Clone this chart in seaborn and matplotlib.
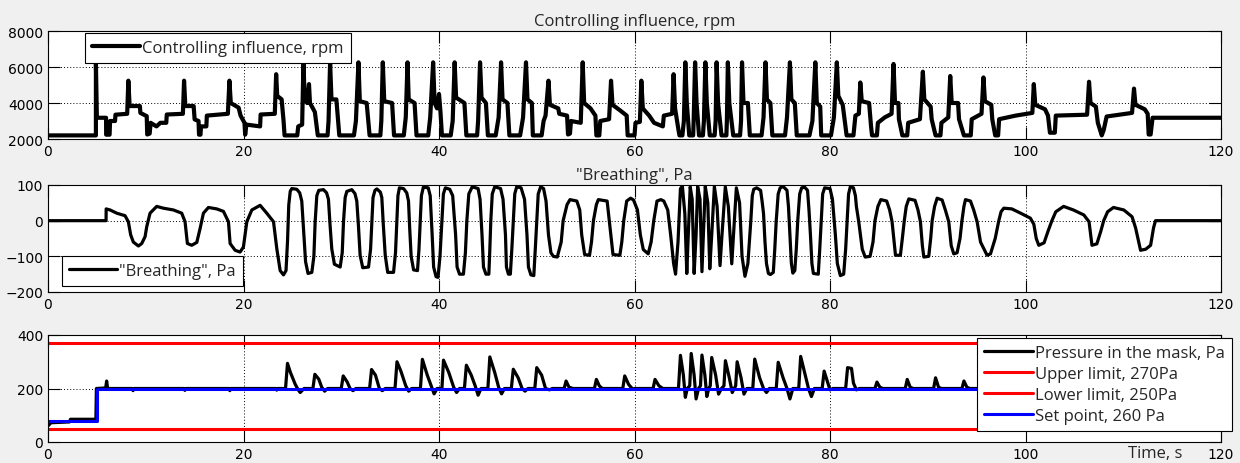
import matplotlib
matplotlib.use("Agg")
import matplotlib.pyplot as plt
import seaborn as sns

# ---------------- data (time in s) ----------------
x_ticks = [0, 20, 40, 60, 80, 100, 120]
ctrl_yticks = [2000, 4000, 6000, 8000]
breath_yticks = [-200, -100, 0, 100]
press_yticks = [0, 200, 400]

# Controlling influence, rpm  (time, rpm)
ctrl_points = [
    (0, 2200), (4.9, 2200), (4.9, 6260), (5.0, 3180), (5.94, 3180), (5.95, 2240), (6.3, 2240),
    (6.35, 3000), (6.86, 3000), (6.9, 3350), (8.1, 3400),
    (8.22, 5240), (8.35, 3830), (9.4, 3830), (9.45, 3450), (10.1, 3270), (10.15, 2250), (10.4, 2300),
    (10.5, 2900), (11.1, 2700), (11.5, 2900), (12.1, 2900), (12.15, 3360), (13.8, 3400),
    (13.92, 5240), (14.05, 3830), (14.9, 3830), (15.0, 3090), (15.4, 3000), (15.45, 2240), (15.6, 2240),
    (15.65, 2700), (16.2, 2700), (16.25, 3300), (18.4, 3400),
    (18.56, 5240), (18.7, 4000), (19.5, 3740), (19.7, 3300), (20.1, 2900), (20.17, 2240), (20.3, 2800),
    (21.7, 2700), (21.75, 3360), (23.2, 3400),
    (23.34, 5600), (23.45, 4400), (23.9, 4200), (24.1, 3000), (24.2, 2200), (25.5, 2200), (25.6, 2700), (26.0, 2800),
    (26.13, 6260), (26.25, 4400), (26.5, 4000), (26.7, 5050), (26.8, 4000), (27.3, 3500), (27.6, 2200), (28.6, 2200), (28.7, 3000),
    (28.86, 6260), (29.0, 4200), (29.5, 4200), (29.8, 2200), (31.3, 2200), (31.5, 3000),
    (31.76, 6260), (31.9, 4100), (32.6, 4000), (32.9, 2200), (34.0, 2200), (34.1, 3000),
    (34.25, 6260), (34.4, 4100), (35.2, 4000), (35.4, 2200), (36.4, 2200), (36.6, 3200),
    (36.78, 6260), (36.9, 4200), (37.5, 4000), (37.7, 2200), (38.9, 2200), (39.1, 3200),
    (39.4, 6260), (39.55, 4000), (39.8, 3700), (40.0, 4500), (40.15, 3500), (40.3, 2200), (41.2, 2200), (41.4, 3000),
    (41.6, 6260), (41.75, 4300), (42.6, 4000), (42.8, 2200), (43.9, 2200), (44.0, 3000),
    (44.2, 6260), (44.35, 4300), (44.8, 4000), (45.0, 2200), (45.8, 2200), (46.1, 3200),
    (46.35, 6260), (46.5, 4200), (47.0, 4000), (47.2, 2200), (48.3, 2200), (48.6, 3200),
    (48.9, 6260), (49.05, 4200), (49.5, 4000), (49.6, 2200), (50.5, 2200), (50.7, 3000), (50.9, 3300),
    (51.2, 5240), (51.35, 3900), (52.2, 3700), (52.3, 3400), (53.1, 3300), (53.2, 2250), (53.4, 2300), (53.5, 3000), (54.5, 2900),
    (54.7, 6260), (54.85, 4000), (55.5, 3700), (56.0, 3300), (56.1, 2200), (56.4, 2200), (56.5, 3000), (57.4, 3100),
    (57.6, 5240), (57.75, 3900), (58.5, 3600), (59.2, 3300), (59.3, 2200), (60.0, 2200), (60.1, 2900), (60.55, 2950),
    (60.7, 5240), (60.85, 3700), (61.5, 3300), (62.0, 2900), (62.9, 2700), (63.0, 3300), (63.85, 3400),
    (64.0, 5600), (64.15, 3700), (64.5, 2500), (64.6, 2200), (64.9, 2200), (65.05, 3000),
    (65.2, 6260), (65.35, 4000), (65.6, 2200), (66.0, 2200), (66.05, 3000),
    (66.2, 6260), (66.35, 4000), (66.6, 2200), (67.0, 2200), (67.1, 3000),
    (67.25, 6260), (67.4, 4000), (67.7, 2200), (68.2, 2200), (68.3, 3000),
    (68.4, 6260), (68.55, 4000), (68.9, 2200), (69.4, 2200), (69.45, 3000),
    (69.55, 6260), (69.7, 4000), (70.1, 2200), (70.8, 2200), (70.9, 3000),
    (71.0, 6260), (71.15, 4000), (71.6, 4000), (71.8, 2200), (73.0, 2200), (73.2, 3200),
    (73.4, 6260), (73.55, 4200), (73.9, 4000), (74.1, 2200), (75.4, 2200), (75.6, 3200),
    (75.9, 6260), (76.05, 4200), (76.4, 4000), (76.6, 2200), (77.9, 2200), (78.2, 3000),
    (78.5, 6260), (78.65, 4000), (79.0, 3800), (79.1, 2200), (80.1, 2200), (80.4, 3200),
    (80.7, 6260), (80.85, 4400), (81.3, 3900), (81.7, 2200), (82.4, 2200), (82.6, 3300), (82.95, 3400),
    (83.1, 5140), (83.25, 4100), (84.0, 4000), (84.2, 2700), (84.3, 2200), (84.8, 2200), (84.9, 2900), (85.6, 3200), (86.3, 3400),
    (86.5, 6170), (86.65, 4000), (87.0, 4000), (87.05, 3100), (87.4, 2200), (87.9, 2200), (88.0, 2900), (89.2, 3100),
    (89.5, 5740), (89.65, 4200), (90.3, 3800), (90.4, 3100), (90.8, 2200), (91.3, 2200), (91.4, 2900), (92.1, 3200),
    (92.3, 5500), (92.45, 4000), (93.1, 4000), (93.2, 3100), (93.7, 2200), (94.4, 2200), (94.5, 3100), (95.5, 3400),
    (95.7, 5420), (95.85, 4100), (96.5, 3900), (96.6, 3100), (96.9, 2200), (97.2, 2200), (97.3, 3100), (99.0, 3300), (100.7, 3450),
    (100.85, 5050), (101.0, 3900), (102.0, 3650), (102.3, 3300), (102.5, 2350), (103.0, 2350), (103.1, 3300), (106.3, 3350),
    (106.5, 5180), (106.65, 4000), (107.2, 3800), (107.4, 2900), (107.8, 2200), (108.0, 2500), (108.3, 3250), (110.9, 3450),
    (111.1, 4800), (111.25, 3900), (112.2, 3650), (112.5, 3400), (112.6, 2250), (112.8, 2250), (113.0, 3180), (120, 3180),
]

# "Breathing", Pa  (time, Pa)
breath_points = [
    (0, 0), (5.94, 0), (5.95, 33), (6.35, 30), (7.03, 21), (7.88, 14), (8.22, -3), (8.46, -40), (8.73, -60),
    (9.25, -71), (9.59, -64), (9.93, -45), (10.1, -17), (10.44, 21), (11.12, 40), (11.8, 35), (12.83, 30),
    (13.68, 21), (14.02, -3), (14.26, -64), (14.7, -69), (15.22, -61), (15.56, -22), (15.9, 21), (16.41, 37),
    (17.26, 33), (17.95, 26), (18.46, -3), (18.63, -64), (19.14, -83), (19.65, -88), (19.99, -74), (20.34, -3),
    (20.85, 30), (21.7, 43), (22.38, 21), (23.07, -3), (23.41, -79), (23.75, -140), (24.09, -152), (24.35, -140),
    (24.5, -60), (24.63, 44), (24.78, 82), (24.94, 90), (25.45, 88), (25.75, 78), (25.96, 55), (26.15, -30),
    (26.35, -115), (26.6, -148), (26.99, -145), (27.2, -100), (27.33, -3), (27.5, 70), (27.7, 85), (28.18, 87),
    (28.5, 78), (28.69, 60), (28.85, -10), (29.03, -79), (29.3, -122), (29.89, -130), (30.1, -90), (30.23, -3),
    (30.4, 65), (30.57, 82), (31.08, 87), (31.4, 76), (31.59, 55), (31.75, -10), (31.93, -97), (32.2, -132),
    (32.79, -130), (33.0, -80), (33.13, -3), (33.25, 65), (33.45, 85), (33.64, 89), (34.0, 80), (34.15, 65),
    (34.3, -10), (34.5, -97), (34.75, -145), (35.35, -145), (35.55, -90), (35.69, -3), (35.8, 70), (35.95, 92),
    (36.37, 90), (36.7, 78), (36.88, 55), (37.0, -20), (37.15, -100), (37.4, -138), (37.8, -140), (37.95, -80),
    (38.08, -3), (38.2, 70), (38.4, 94), (38.9, 92), (39.1, 70), (39.3, -40), (39.45, -130), (39.7, -157),
    (39.9, -159), (40.1, -100), (40.3, 0), (40.45, 75), (40.65, 92), (41.1, 88), (41.4, 70), (41.7, -40),
    (41.85, -130), (42.1, -150), (42.5, -150), (42.7, -90), (42.85, 0), (43.05, 75), (43.4, 95), (44.0, 90),
    (44.2, 60), (44.4, -40), (44.55, -130), (44.8, -150), (45.1, -150), (45.2, -80), (45.3, 0), (45.45, 75),
    (45.7, 95), (46.3, 90), (46.55, 60), (46.8, -40), (46.9, -130), (47.1, -150), (47.3, -150), (47.45, -80),
    (47.6, 0), (47.75, 75), (47.95, 95), (48.4, 92), (48.75, 60), (49.0, -40), (49.15, -130), (49.4, -152),
    (49.7, -154), (49.85, -80), (50.0, 0), (50.15, 75), (50.4, 95), (50.7, 90), (50.95, 55), (51.2, -40),
    (51.45, -90), (51.7, -100), (52.1, -102), (52.5, -60), (52.7, 0), (53.1, 45), (53.4, 59), (54.1, 55),
    (54.4, 30), (54.6, -40), (54.9, -95), (55.4, -97), (55.6, -60), (55.8, 0), (56.1, 45), (56.3, 59),
    (57.2, 55), (57.5, -20), (57.8, -95), (58.5, -97), (58.7, -60), (58.9, 0), (59.2, 55), (59.6, 63),
    (59.9, 58), (60.3, 30), (60.6, -40), (60.9, -81), (61.4, -93), (61.7, -60), (61.97, 0), (62.3, 55),
    (62.7, 59), (63.0, 55), (63.4, 30), (63.7, -40), (64.0, -120), (64.2, -150), (64.45, -60), (64.7, 90),
    (64.9, 96), (65.15, 20), (65.35, -148), (65.5, -40), (65.7, 95), (65.9, 60), (66.1, -148), (66.3, -40),
    (66.46, 96), (66.7, 60), (66.9, -143), (67.05, -40), (67.24, 96), (67.5, 50), (67.7, -135), (67.9, -40),
    (68.17, 96), (68.45, 40), (68.75, -126), (68.95, -40), (69.29, 95), (69.6, 40), (69.95, -121), (70.15, -30),
    (70.42, 92), (70.75, 50), (71.0, -100), (71.3, -156), (71.6, -120), (71.9, 0), (72.05, 70), (72.2, 88),
    (72.5, 92), (72.9, 85), (73.05, 55), (73.2, 20), (73.35, -60), (73.5, -120), (73.7, -148), (73.9, -151),
    (74.2, -145), (74.35, -80), (74.5, 0), (74.7, 75), (74.9, 92), (75.2, 96), (75.6, 85), (75.75, 40),
    (75.9, -40), (76.05, -120), (76.2, -147), (76.4, -140), (76.55, -80), (76.7, 0), (76.9, 75), (77.1, 92),
    (77.4, 94), (77.7, 85), (77.85, 30), (78.0, -40), (78.15, -120), (78.3, -148), (78.8, -150), (78.95, -80),
    (79.1, 0), (79.25, 75), (79.45, 92), (80.0, 90), (80.25, 60), (80.4, 10), (80.55, -40), (80.75, -120),
    (81.06, -154), (81.4, -150), (81.6, -80), (81.75, 0), (81.9, 75), (82.09, 96), (82.4, 92), (82.6, 70),
    (82.7, 40), (82.94, -3), (83.3, -80), (83.6, -102), (84.1, -100), (84.4, -60), (84.6, 0), (84.9, 40),
    (85.2, 59), (85.8, 55), (86.1, 30), (86.35, -3), (86.6, -70), (86.7, -97), (87.2, -97), (87.4, -50),
    (87.6, 0), (87.8, 40), (88.06, 61), (88.7, 57), (89.0, 30), (89.25, -3), (89.45, -70), (89.6, -102),
    (90.1, -100), (90.3, -50), (90.45, 0), (90.7, 40), (90.96, 63), (91.47, 58), (91.8, 30), (92.15, -3),
    (92.4, -70), (92.66, -93), (93.0, -90), (93.3, -50), (93.5, 0), (93.7, 40), (93.86, 59), (94.37, 55),
    (94.7, 30), (95.05, -3), (95.4, -60), (96.07, -97), (96.42, -93), (96.9, -50), (97.27, 0), (97.5, 25),
    (97.78, 35), (98.6, 33), (99.5, 21), (100.5, 7), (100.85, -10), (101.1, -50), (101.36, -69), (101.9, -62),
    (102.3, -30), (102.7, 0), (103.1, 25), (103.9, 40), (104.9, 30), (105.97, 16), (106.5, -3), (106.8, -69),
    (107.3, -65), (107.7, -30), (108.0, 0), (108.4, 25), (109.0, 37), (110.06, 30), (110.9, 11), (111.26, -20),
    (111.77, -83), (112.3, -80), (112.8, -69), (113.1, -20), (113.3, 0), (120, 0),
]

# Pressure in the mask, Pa  (time, Pa)
press_points = [
    (0, 60), (0.3, 72), (2.2, 75), (2.3, 85), (4.9, 85), (4.95, 200), (5.9, 202), (6.0, 228), (6.1, 200),
    (8.6, 200), (8.7, 192), (8.8, 200), (13.9, 200), (14.0, 193), (14.1, 200), (18.5, 200), (18.6, 192),
    (18.7, 200), (23.3, 200), (23.4, 194), (23.5, 200),
    (24.3, 200), (24.5, 294), (24.8, 260), (25.3, 215), (25.6, 195), (25.8, 185), (26.2, 200),
    (27.1, 200), (27.3, 253), (27.7, 235), (28.0, 205), (28.3, 190), (28.6, 200),
    (30.0, 200), (30.2, 247), (30.6, 225), (30.9, 200), (31.2, 192), (31.5, 200),
    (32.9, 200), (33.1, 271), (33.5, 250), (33.9, 200), (34.2, 192), (34.5, 200),
    (35.5, 200), (35.7, 300), (36.1, 265), (36.6, 210), (36.9, 190), (37.2, 200),
    (38.1, 200), (38.3, 309), (38.8, 250), (39.2, 210), (39.5, 180), (39.8, 200),
    (40.3, 200), (40.46, 306), (41.0, 260), (41.5, 205), (41.8, 185), (42.1, 200),
    (42.6, 200), (42.8, 287), (43.3, 250), (43.7, 210), (44.0, 175), (44.3, 200),
    (45.0, 200), (45.2, 318), (45.7, 260), (46.1, 205), (46.4, 180), (46.7, 200),
    (47.4, 200), (47.6, 272), (48.1, 240), (48.5, 200), (48.8, 190), (49.1, 200),
    (49.8, 200), (50.0, 278), (50.5, 250), (50.9, 200), (51.3, 195), (51.6, 200),
    (52.8, 200), (53.0, 228), (53.3, 205), (53.7, 200),
    (55.9, 200), (56.1, 234), (56.4, 210), (56.7, 200),
    (58.8, 200), (59.0, 247), (59.4, 215), (59.8, 198), (60.0, 200),
    (61.9, 200), (62.1, 234), (62.5, 210), (62.9, 200),
    (64.5, 200), (64.7, 324), (65.0, 250), (65.2, 167), (65.4, 200), (65.65, 210), (65.8, 331), (66.1, 250),
    (66.3, 161), (66.55, 200), (66.75, 210), (66.9, 325), (67.2, 250), (67.4, 170), (67.6, 200), (67.75, 210),
    (67.9, 316), (68.3, 250), (68.6, 179), (68.9, 200), (69.15, 210), (69.3, 304), (69.7, 240), (70.0, 185),
    (70.2, 200), (70.35, 210), (70.5, 300), (70.9, 240), (71.2, 179), (71.5, 200),
    (72.1, 200), (72.3, 310), (72.8, 240), (73.2, 200), (73.5, 185), (73.8, 200),
    (74.5, 200), (74.7, 298), (75.2, 240), (75.6, 200), (75.9, 161), (76.2, 200),
    (76.8, 200), (77.0, 320), (77.4, 260), (77.8, 200), (78.1, 170), (78.4, 200),
    (79.2, 200), (79.4, 265), (79.7, 230), (80.0, 195), (80.3, 200),
    (81.6, 200), (81.8, 278), (82.2, 275), (82.4, 220), (82.7, 195), (83.0, 200),
    (84.6, 200), (84.8, 224), (85.1, 205), (85.4, 200),
    (87.7, 200), (87.9, 234), (88.2, 205), (88.5, 200),
    (90.6, 200), (90.8, 240), (91.1, 205), (91.4, 200),
    (93.5, 200), (93.7, 228), (94.0, 205), (94.3, 200),
    (96.5, 200), (96.7, 225), (97.0, 200),
    (100.7, 200), (100.9, 230), (101.2, 200), (106.3, 200), (106.5, 225), (106.8, 200),
    (110.9, 200), (111.1, 220), (111.4, 200), (120, 200),
]

upper_limit_t = [0, 120]
upper_limit_pa = [370, 370]
lower_limit_t = [0, 120]
lower_limit_pa = [50, 50]
setpoint_t = [0, 5.0, 5.0, 120]
setpoint_pa = [77, 77, 200, 200]

ctrl_t, ctrl_rpm = zip(*ctrl_points)
breath_t, breath_pa = zip(*breath_points)
press_t, press_pa = zip(*press_points)

# ---------------- figure ----------------
sns.set_style("ticks")
plt.rcParams['font.family'] = ['DejaVu Sans']

W, H = 1240, 464
fig = plt.figure(figsize=(W / 100, H / 100), dpi=100, facecolor='#f0f0f0')
L, AW = 48 / W, 1173 / W
ax1 = fig.add_axes([L, 1 - 140 / H, AW, 108 / H])
ax2 = fig.add_axes([L, 1 - 293 / H, AW, 107 / H])
ax3 = fig.add_axes([L, 1 - 443 / H, AW, 107 / H])

FAM = ['Open Sans', 'DejaVu Sans']
title_font = dict(family=FAM, size=12)
leg_font = dict(family=FAM, size=12)


def style(ax, yticks):
    ax.set_facecolor('white')
    ax.set_xlim(0, 120)
    ax.set_xticks(x_ticks)
    ax.set_ylim(yticks[0], yticks[-1])
    ax.set_yticks(yticks)
    ax.tick_params(direction='in', length=8.5, width=0.8, top=True, right=True,
                   labelsize=10, pad=3.5, colors='black')
    ax.grid(True, color='black', linestyle=(0, (1, 2.2)), linewidth=0.7)
    ax.set_axisbelow(True)
    for s in ax.spines.values():
        s.set_linewidth(0.8)
        s.set_color('black')
        s.set_visible(True)
    ax.set_xlabel('')
    ax.set_ylabel('')


def legend(ax, **kw):
    lg = ax.legend(prop=leg_font, fancybox=False, framealpha=1, edgecolor='black',
                   handlelength=2.9, handletextpad=0.12, borderpad=0.42, borderaxespad=0, **kw)
    lg.get_frame().set_linewidth(0.8)
    return lg


# Panel 1
sns.lineplot(x=list(ctrl_t), y=list(ctrl_rpm), ax=ax1, color='black', linewidth=3.0,
             estimator=None, sort=False, label='Controlling influence, rpm')
style(ax1, ctrl_yticks)
ax1.set_title('Controlling influence, rpm', fontdict=title_font, pad=4)
legend(ax1, loc='upper left', bbox_to_anchor=(0.0315, 0.985))

# Panel 2
sns.lineplot(x=list(breath_t), y=list(breath_pa), ax=ax2, color='black', linewidth=2.3,
             estimator=None, sort=False, label='"Breathing", Pa')
style(ax2, breath_yticks)
ax2.set_title('"Breathing", Pa', fontdict=title_font, pad=4)
legend(ax2, loc='lower left', bbox_to_anchor=(0.012, 0.055))

# Panel 3
sns.lineplot(x=list(press_t), y=list(press_pa), ax=ax3, color='black', linewidth=2.3,
             estimator=None, sort=False, label='Pressure in the mask, Pa')
sns.lineplot(x=upper_limit_t, y=upper_limit_pa, ax=ax3, color='#ff0000', linewidth=2.2,
             estimator=None, sort=False, label='Upper limit, 270Pa')
sns.lineplot(x=lower_limit_t, y=lower_limit_pa, ax=ax3, color='#ff0000', linewidth=2.2,
             estimator=None, sort=False, label='Lower limit, 250Pa')
sns.lineplot(x=setpoint_t, y=setpoint_pa, ax=ax3, color='#0000ff', linewidth=2.2,
             estimator=None, sort=False, label='Set point, 260 Pa')
style(ax3, press_yticks)
lg3 = legend(ax3, loc='upper right', bbox_to_anchor=(1.009, 0.975), labelspacing=0.3)
lg3.set_zorder(10)
ax3.text(0.921, -0.03, 'Time, s', transform=ax3.transAxes, ha='left', va='top',
         fontsize=12, family=FAM)

fig.savefig('out.png', dpi=100, facecolor=fig.get_facecolor())
